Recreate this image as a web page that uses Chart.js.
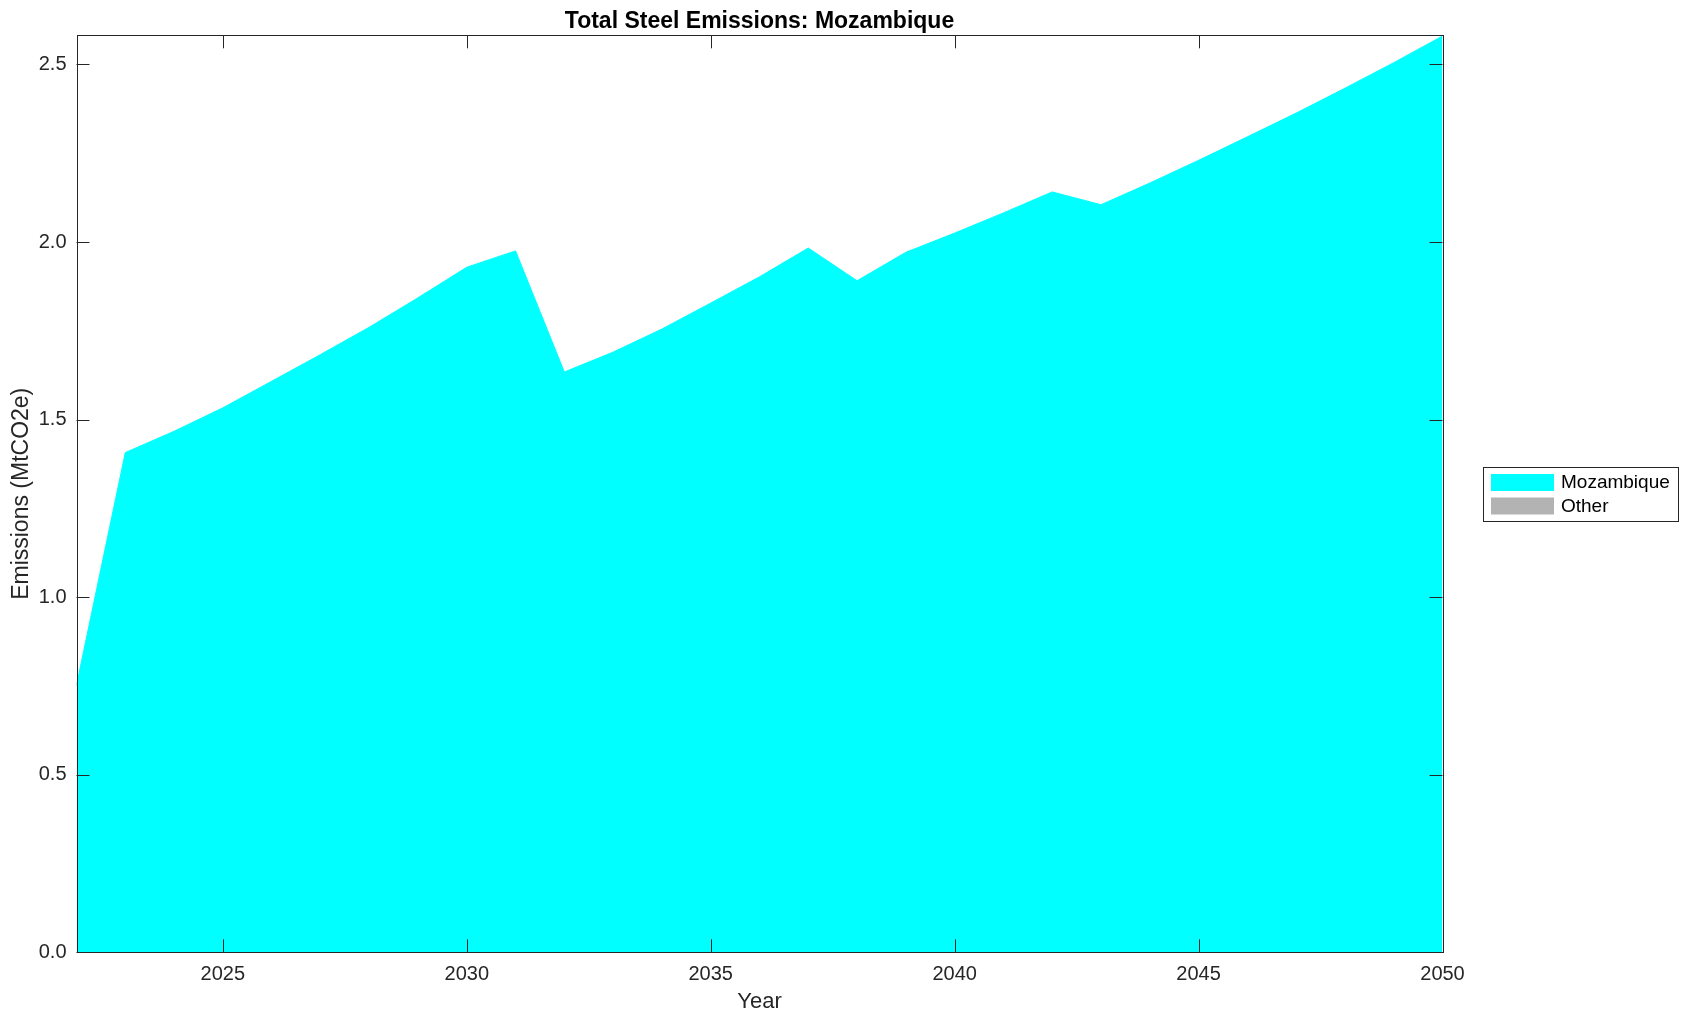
<!DOCTYPE html>
<html>
<head>
<meta charset="utf-8">
<script src="https://cdn.jsdelivr.net/npm/chart.js@4/dist/chart.umd.min.js"></script>
<style>
  html, body { margin: 0; padding: 0; background: #fff; }
  #wrap { width: 1689px; height: 1021px; }
</style>
</head>
<body>
<div id="wrap"><canvas id="c" width="1689" height="1021"></canvas></div>
<script>
// valores (MtCO2e por ano)
const years = [2022, 2023, 2024, 2025, 2026, 2027, 2028, 2029, 2030, 2031, 2032, 2033, 2034, 2035, 2036,
  2037, 2038, 2039, 2040, 2041, 2042, 2043, 2044, 2045, 2046, 2047, 2048, 2049, 2050];
const mozambique = [0.752, 1.407, 1.467, 1.533, 1.608, 1.683, 1.760, 1.843, 1.929, 1.975, 1.634, 1.690, 1.755, 1.828, 1.902,
  1.983, 1.891, 1.971, 2.025, 2.082, 2.141, 2.105, 2.166, 2.230, 2.296, 2.363, 2.433, 2.505, 2.580];
const other = years.map(() => 0);
const xTicks = [2025, 2030, 2035, 2040, 2045, 2050];
const yTicks = [0, 0.5, 1.0, 1.5, 2.0, 2.5];

const FONT = '"Liberation Sans", Arial, Helvetica, sans-serif';
const INK = '#262626';
const TITLE = 'Total Steel Emissions: Mozambique';

// moldura + marcas para dentro nos 4 lados (estilo MATLAB) + título centrado na área do gráfico
const boxPlugin = {
  id: 'box',
  afterDatasetsDraw(chart) {
    const { ctx, chartArea: a, scales: { x, y } } = chart;
    const L = 13;
    ctx.save();
    ctx.strokeStyle = INK;
    ctx.lineWidth = 1;
    ctx.beginPath();
    xTicks.forEach(v => {
      const px = Math.round(x.getPixelForValue(v)) + 0.5;
      ctx.moveTo(px, a.bottom); ctx.lineTo(px, a.bottom - L);
      ctx.moveTo(px, a.top); ctx.lineTo(px, a.top + L);
    });
    yTicks.forEach(v => {
      const py = Math.round(y.getPixelForValue(v)) + 0.5;
      ctx.moveTo(a.left, py); ctx.lineTo(a.left + L, py);
      ctx.moveTo(a.right, py); ctx.lineTo(a.right - L, py);
    });
    ctx.stroke();
    ctx.strokeRect(Math.round(a.left) + 0.5, Math.round(a.top) + 0.5, Math.round(a.right - a.left), Math.round(a.bottom - a.top));

    ctx.fillStyle = '#000';
    ctx.font = 'bold 23px ' + FONT;
    ctx.textAlign = 'center';
    ctx.textBaseline = 'alphabetic';
    ctx.fillText(TITLE, (a.left + a.right) / 2, 28);
    ctx.restore();
  }
};

// legenda desenhada à mão, fora da área do gráfico
const legendPlugin = {
  id: 'sideLegend',
  afterDraw(chart) {
    const { ctx } = chart;
    const bx = 1483.5, by = 467.5, bw = 195, bh = 54;
    ctx.save();
    ctx.fillStyle = '#fff';
    ctx.fillRect(bx, by, bw, bh);
    ctx.strokeStyle = INK;
    ctx.lineWidth = 1;
    ctx.strokeRect(bx, by, bw, bh);
    ctx.font = '19px ' + FONT;
    ctx.textBaseline = 'middle';
    chart.data.datasets.forEach((ds, i) => {
      const top = 474 + i * 23.5;
      ctx.fillStyle = ds.swatch;
      ctx.fillRect(1491, top, 63, 17);
      ctx.fillStyle = '#000';
      ctx.fillText(ds.label, 1561, top + 9);
    });
    ctx.restore();
  }
};

new Chart(document.getElementById('c'), {
  type: 'line',
  data: {
    labels: years,
    datasets: [
      { label: 'Mozambique', data: years.map((yr, i) => ({ x: yr, y: mozambique[i] })), swatch: '#00ffff',
        backgroundColor: '#00ffff', borderColor: '#00ffff', borderWidth: 1, pointRadius: 0, fill: 'origin', tension: 0 },
      { label: 'Other', data: years.map((yr, i) => ({ x: yr, y: mozambique[i] + other[i] })), swatch: '#b3b3b3',
        backgroundColor: '#b3b3b3', borderColor: 'rgba(0,0,0,0)', borderWidth: 0, pointRadius: 0, fill: '-1', tension: 0 },
    ],
  },
  options: {
    responsive: false, animation: false,
    layout: { padding: { left: 0, top: 35.3, right: 246.5, bottom: 0 } },
    plugins: {
      legend: { display: false },
      tooltip: { enabled: false },
      title: { display: false },
    },
    scales: {
      x: {
        type: 'linear', min: 2022, max: 2050,
        afterBuildTicks: s => { s.ticks = xTicks.map(v => ({ value: v })); },
        afterFit: s => { s.height = 68.7; },
        grid: { display: false, drawTicks: false }, border: { display: false },
        ticks: { color: INK, padding: 10, maxRotation: 0, font: { family: FONT, size: 20 }, callback: v => String(v) },
        title: { display: true, text: 'Year', color: INK, font: { family: FONT, size: 22 }, padding: { top: 0, bottom: 6 } },
      },
      y: {
        type: 'linear', min: 0, max: 2.582,
        afterBuildTicks: s => { s.ticks = yTicks.map(v => ({ value: v })); },
        afterFit: s => { s.width = 76.5; },
        grid: { display: false, drawTicks: false }, border: { display: false },
        ticks: { color: INK, padding: 10, font: { family: FONT, size: 20 }, callback: v => Number(v).toFixed(1) },
        title: { display: true, text: 'Emissions (MtCO2e)', color: INK, font: { family: FONT, size: 23 }, padding: { top: 8, bottom: 0 } },
      },
    },
  },
  plugins: [boxPlugin, legendPlugin],
});
</script>
</body>
</html>
